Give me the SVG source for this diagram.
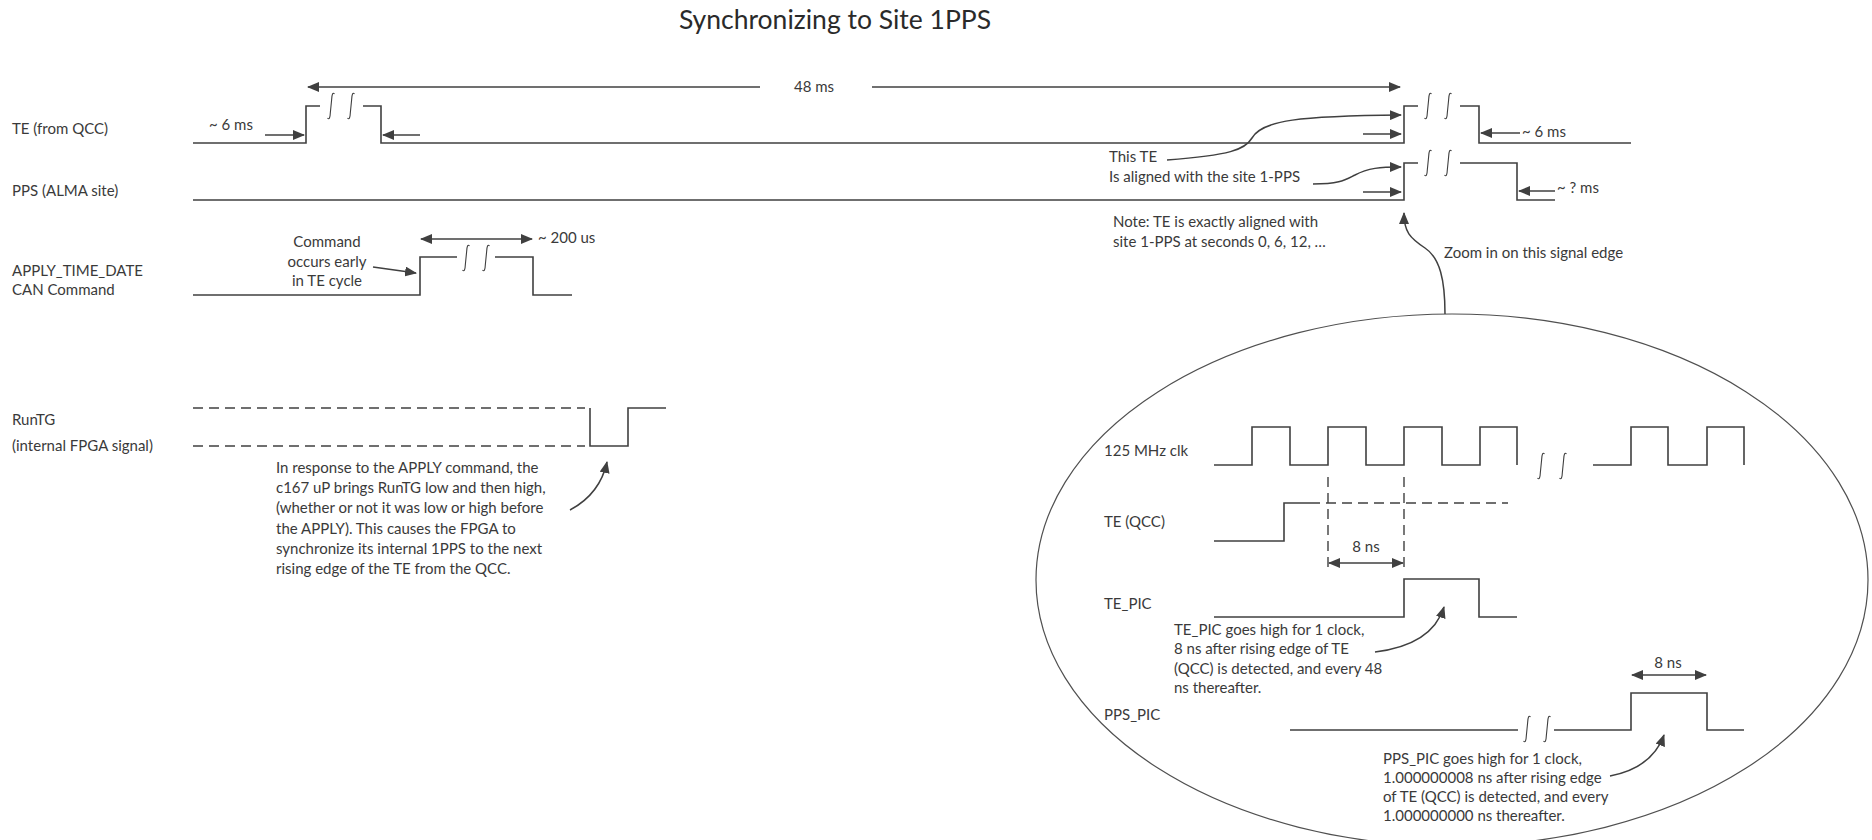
<svg xmlns="http://www.w3.org/2000/svg" width="1872" height="840" viewBox="0 0 1872 840">
<defs>
<marker id="ah" markerUnits="userSpaceOnUse" markerWidth="12" markerHeight="10" refX="11" refY="5" orient="auto-start-reverse" viewBox="0 0 12 10">
<path d="M0,0 L12,5 L0,10 z" fill="#404040"/>
</marker>
<style>
.t{font-family:Lato,"Open Sans","Liberation Sans",sans-serif;font-size:15px;fill:#3a3a3a}
.ttl{font-family:Lato,"Open Sans","Liberation Sans",sans-serif;font-size:26.5px;fill:#2a2a2a}
.w{fill:none;stroke:#404040;stroke-width:1.6}
.d{fill:none;stroke:#404040;stroke-width:1.4;stroke-dasharray:10 6}
.a{fill:none;stroke:#404040;stroke-width:1.5;marker-end:url(#ah)}
.a2{fill:none;stroke:#404040;stroke-width:1.5;marker-end:url(#ah);marker-start:url(#ah)}
.sq{fill:none;stroke:#404040;stroke-width:1.1}
</style>
<path id="sqg" class="sq" d="M-3.5,12 Q-1,15 -0.6,6 L0.6,-6 Q1,-15 3.5,-12"/>
</defs>
<rect width="1872" height="840" fill="#ffffff"/>
<text class="ttl" x="835" y="29" text-anchor="middle">Synchronizing to Site 1PPS</text>

<g id="labels">
<text class="t" x="12" y="134">TE (from QCC)</text>
<text class="t" x="12" y="196">PPS (ALMA site)</text>
<text class="t" x="12" y="276">APPLY_TIME_DATE</text>
<text class="t" x="12" y="295">CAN Command</text>
<text class="t" x="12" y="425">RunTG</text>
<text class="t" x="12" y="451">(internal FPGA signal)</text>
</g>

<g id="te-signal">
<path class="w" d="M193,143 H306 V106 H320 M363,106 H381 V143 H1404 V106 H1418 M1460,106 H1479 V143 H1631"/>
<use href="#sqg" x="331" y="106"/><use href="#sqg" x="351" y="106"/>
<use href="#sqg" x="1428" y="106"/><use href="#sqg" x="1448" y="106"/>
<text class="t" x="209" y="130">~ 6 ms</text>
<text class="t" x="1522" y="137">~ 6 ms</text>
</g>

<g id="pps-signal">
<path class="w" d="M193,200 H1404 V163 H1418 M1460,163 H1517 V200 H1555"/>
<use href="#sqg" x="1428" y="163"/><use href="#sqg" x="1448" y="163"/>
<text class="t" x="1557" y="193">~ ? ms</text>
</g>

<g id="apply-signal">
<path class="w" d="M193,295 H420 V257 H457 M495,257 H533 V295 H572"/>
<use href="#sqg" x="466" y="258"/><use href="#sqg" x="486" y="258"/>
<text class="t" x="538" y="243">~ 200 us</text>
<text class="t" x="327" y="247" text-anchor="middle">Command</text>
<text class="t" x="327" y="267" text-anchor="middle">occurs early</text>
<text class="t" x="327" y="286" text-anchor="middle">in TE cycle</text>
</g>

<g id="runtg-signal">
<path class="d" d="M193,408 H585 M193,446 H585"/>
<path class="w" d="M590,408 V446 H628 V408 H666"/>
<text class="t" x="276" y="473">In response to the APPLY command, the</text>
<text class="t" x="276" y="493">c167 uP brings RunTG  low and then high,</text>
<text class="t" x="276" y="513">(whether or not it was low or high before</text>
<text class="t" x="276" y="534">the APPLY).  This causes the FPGA to</text>
<text class="t" x="276" y="554">synchronize its internal 1PPS to the next</text>
<text class="t" x="276" y="574">rising edge of the TE from the QCC.</text>
</g>

<g id="notes">
<text class="t" x="814" y="92" text-anchor="middle">48 ms</text>
<text class="t" x="1109" y="162">This TE</text>
<text class="t" x="1109" y="182">Is aligned with the site 1-PPS</text>
<text class="t" x="1113" y="227">Note: TE is exactly aligned with</text>
<text class="t" x="1113" y="247">site 1-PPS at seconds 0, 6, 12, …</text>
<text class="t" x="1444" y="258">Zoom in on this signal edge</text>
</g>

<g id="zoom-ellipse">
<ellipse cx="1452" cy="580" rx="416" ry="266" fill="none" stroke="#505050" stroke-width="1.2"/>
<text class="t" x="1104" y="456">125 MHz clk</text>
<path class="w" d="M1214,465 H1252 V427 H1290 V465 H1328 V427 H1366 V465 H1404 V427 H1442 V465 H1480 V427 H1517 V465 M1593,465 H1631 V427 H1668 V465 H1707 V427 H1744 V465"/>
<use href="#sqg" x="1541" y="466"/><use href="#sqg" x="1563" y="466"/>
<text class="t" x="1104" y="527">TE (QCC)</text>
<path class="w" d="M1214,541 H1284 V503 H1310"/>
<path class="d" d="M1310,503 H1508 M1328,477 V568 M1404,477 V568"/>
<text class="t" x="1366" y="552" text-anchor="middle">8 ns</text>
<text class="t" x="1104" y="609">TE_PIC</text>
<path class="w" d="M1214,617 H1404 V579 H1479 V617 H1517"/>
<text class="t" x="1174" y="635">TE_PIC goes high for 1 clock,</text>
<text class="t" x="1174" y="654">8 ns after rising edge of TE</text>
<text class="t" x="1174" y="674">(QCC) is detected, and every 48</text>
<text class="t" x="1174" y="693">ns thereafter.</text>
<text class="t" x="1104" y="720">PPS_PIC</text>
<path class="w" d="M1290,730 H1518 M1554,730 H1631 V693 H1707 V730 H1744"/>
<use href="#sqg" x="1527" y="729"/><use href="#sqg" x="1547" y="729"/>
<text class="t" x="1668" y="668" text-anchor="middle">8 ns</text>
<text class="t" x="1383" y="764">PPS_PIC goes high for 1 clock,</text>
<text class="t" x="1383" y="783">1.000000008 ns after rising edge</text>
<text class="t" x="1383" y="802">of TE (QCC) is detected, and every</text>
<text class="t" x="1383" y="821">1.000000000 ns thereafter.</text>
</g>

<g id="connectors">
<path class="a" d="M760,87 H308"/>
<path class="a" d="M872,87 H1400"/>
<path class="a" d="M265,135 H304"/>
<path class="a" d="M420,135 H383"/>
<path class="a2" d="M421,239 H532"/>
<path class="a" d="M373,267 L416,273"/>
<path class="a" d="M570,510 Q600,494 607,462"/>
<path class="a" d="M1167,160 C1230,155 1245,150 1252,138 C1262,120 1300,116 1401,115"/>
<path class="a" d="M1363,134 H1401"/>
<path class="a" d="M1520,133 H1481"/>
<path class="a" d="M1313,184 C1340,184 1345,180 1355,175 C1368,168 1380,167 1401,167"/>
<path class="a" d="M1363,192 H1401"/>
<path class="a" d="M1555,191 H1519"/>
<path class="a" d="M1445,314 C1445,280 1440,258 1425,248 C1410,238 1404,232 1404,213"/>
<path class="a2" d="M1329,563 H1403"/>
<path class="a" d="M1375,652 Q1432,645 1444,607"/>
<path class="a2" d="M1632,675 H1706"/>
<path class="a" d="M1610,776 Q1652,768 1664,735"/>
</g>
</svg>
